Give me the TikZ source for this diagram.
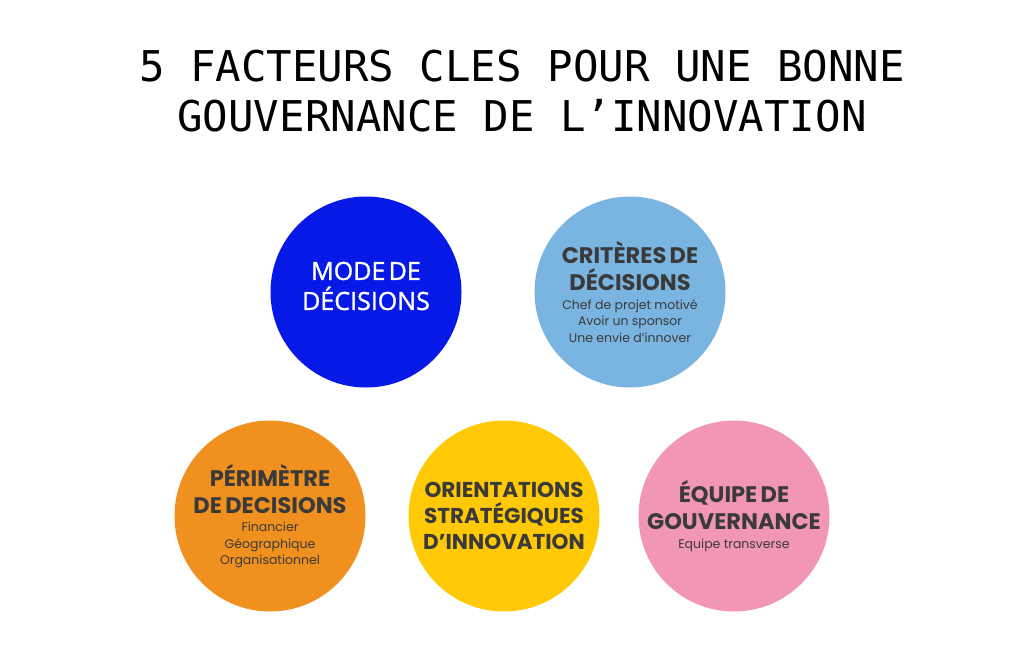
\documentclass[tikz,border=0pt]{standalone}
\usepackage{fontspec}
\setmainfont{Poppins}
\newfontfamily\titlefont{DejaVu Sans Mono}
\newfontfamily\modefont[FakeBold=1.2]{Open Sans}
\usetikzlibrary{shapes.geometric}

\definecolor{modeblue}{HTML}{0719E6}
\definecolor{critblue}{HTML}{7AB4E1}
\definecolor{periorange}{HTML}{F0901F}
\definecolor{orientyellow}{HTML}{FFC906}
\definecolor{equipepink}{HTML}{F296B5}
\definecolor{textgray}{HTML}{3A3A3A}

\tikzstyle{factor} = [
    circle,
    minimum size=191pt,
    inner sep=0pt
]
\tikzstyle{factortext} = [
    text width=200pt,
    align=center,
    text=textgray
]
\tikzstyle{title} = [
    align=center,
    font=\titlefont\fontsize{42.4}{50}\selectfont
]

\newcommand{\facthead}[1]{{\fontsize{22.5}{27}\selectfont\bfseries #1\par}}
\newcommand{\factsub}[1]{{\vspace{2pt}\fontsize{12.5}{16.5}\selectfont #1\par}}

\begin{document}
\begin{tikzpicture}[x=1pt, y=1pt]

\useasboundingbox (0,0) rectangle (1024,-653);

\node (title) [title] at (522,-91)
{5 FACTEURS CLES POUR UNE BONNE\\GOUVERNANCE DE L’INNOVATION};

% les cinq facteurs
\node (mode) [factor, fill=modeblue] at (366,-292) {};
\node (criteres) [factor, fill=critblue] at (630,-292) {};
\node (perimetre) [factor, fill=periorange] at (270,-516) {};
\node (orientations) [factor, fill=orientyellow] at (504,-516) {};
\node (equipe) [factor, fill=equipepink] at (734,-516) {};

% textes
\node (modetext) [factortext, text=white] at ([yshift=6pt]mode.center)
{{\modefont\fontsize{25}{30}\selectfont MODE DE\\DÉCISIONS\par}};

\node (criterestext) [factortext] at (criteres.center)
{\facthead{CRITÈRES DE\\DÉCISIONS}
\factsub{Chef de projet motivé\\Avoir un sponsor\\Une envie d’innover}};

\node (perimetretext) [factortext] at (perimetre.center)
{\facthead{PÉRIMÈTRE\\DE DECISIONS}
\factsub{Financier\\Géographique\\Organisationnel}};

\node (orientationstext) [factortext] at (orientations.center)
{{\fontsize{21.5}{26}\selectfont\bfseries ORIENTATIONS\\STRATÉGIQUES\\D’INNOVATION\par}};

\node (equipetext) [factortext] at (equipe.center)
{\facthead{ÉQUIPE DE\\GOUVERNANCE}
\factsub{Equipe transverse}};

\end{tikzpicture}
\end{document}
